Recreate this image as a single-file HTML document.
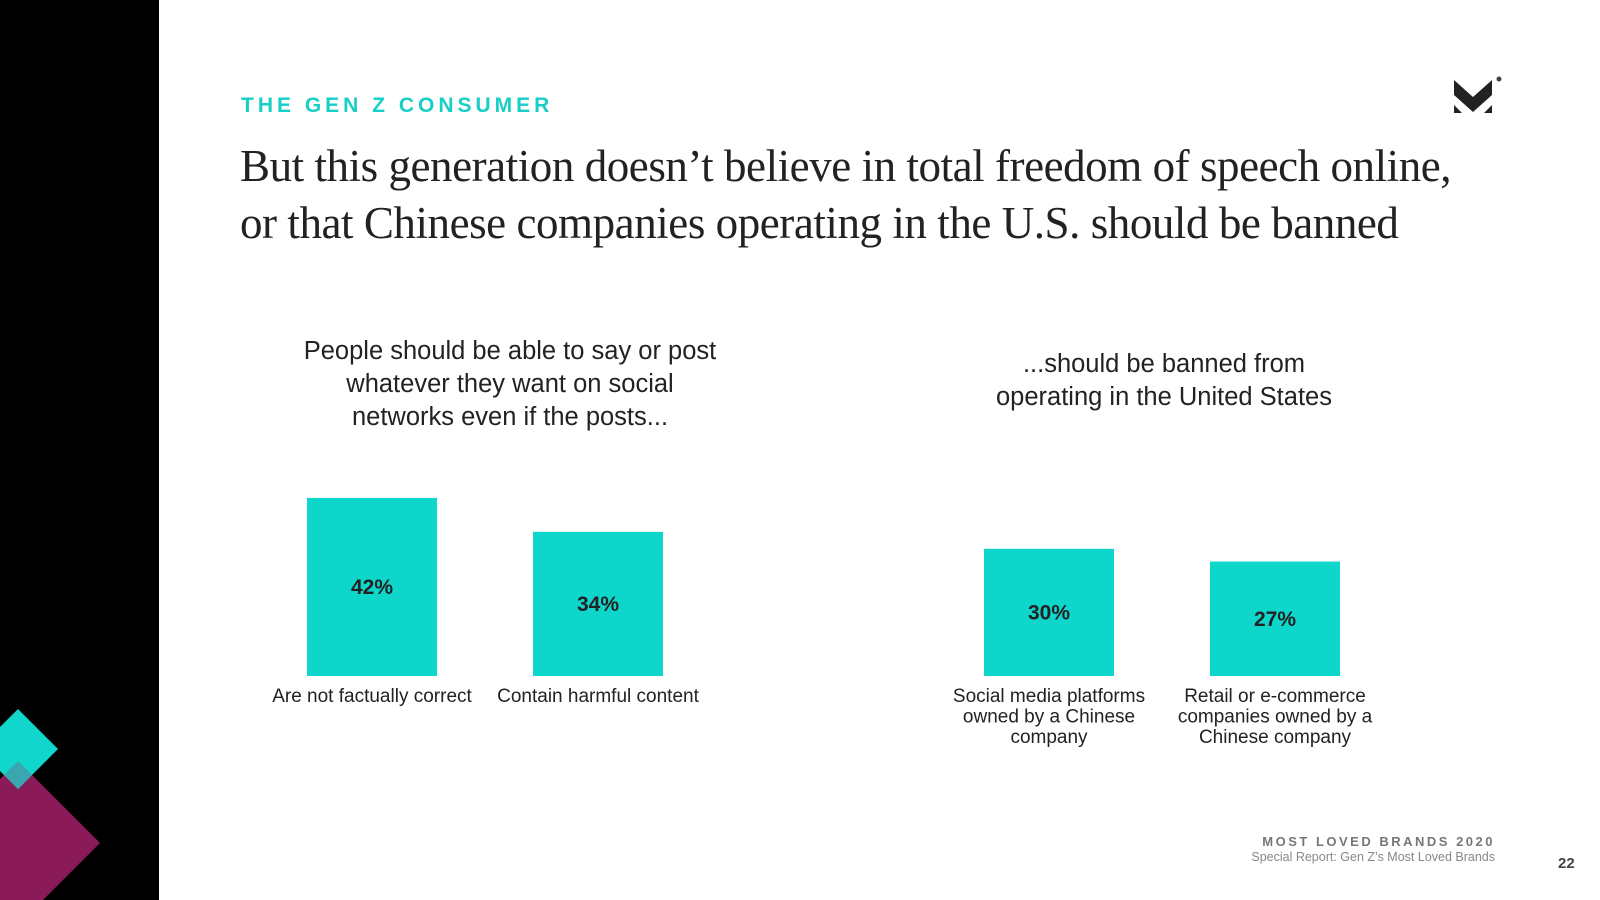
<!DOCTYPE html>
<html><head><meta charset="utf-8"><style>
*{margin:0;padding:0;box-sizing:border-box}
body{width:1600px;height:900px;overflow:hidden;background:#fff;position:relative;font-family:"Liberation Sans",sans-serif;color:#2a2a2a}
.abs{position:absolute}
#kicker{left:241px;top:94px;font-size:21px;font-weight:bold;letter-spacing:4px;color:#17cfc6;white-space:nowrap}
#title{left:240px;top:138px;font-family:"Liberation Serif",serif;font-size:45px;line-height:57px;color:#222;white-space:nowrap;letter-spacing:-0.45px}
.sub{font-size:25.5px;line-height:33px;text-align:center;color:#222}
.foot1{right:105px;top:834px;font-size:13px;font-weight:bold;letter-spacing:2.5px;color:#777}
.foot2{right:105px;top:850px;font-size:12.5px;color:#888}
</style></head><body>
<div class="abs" style="left:0;top:0;width:159px;height:900px;background:#000;overflow:hidden">
<svg width="159" height="900">
<polygon points="18,761 100,843 18,925 -64,843" fill="#8a1a58"/>
<polygon points="18,709 58,749 18,789 -22,749" fill="#11d6cc"/>
<polygon points="18,761 32,775 18,789 4,775" fill="#3aa6b0"/>
</svg></div>
<div id="kicker" class="abs">THE GEN Z CONSUMER</div>
<div id="title" class="abs">But this generation doesn’t believe in total freedom of speech online,<br>or that Chinese companies operating in the U.S. should be banned</div>
<svg class="abs" style="left:1454px;top:76px" width="52" height="40">
<polygon points="0,4 19,21 38,4 38,19 19,36 0,19" fill="#222"/>
<polygon points="0,29 8,37 0,37" fill="#222"/><polygon points="38,29 30,37 38,37" fill="#222"/>
<circle cx="45" cy="3" r="2.5" fill="#444"/></svg>
<div class="abs sub" style="left:260px;width:500px;top:335px">People should be able to say or post<br>whatever they want on social<br>networks even if the posts...</div>
<div class="abs sub" style="left:914px;width:500px;top:348px">...should be banned from<br>operating in the United States</div>
<svg id="chart" class="abs" style="left:0;top:0" width="1600" height="900"></svg>
<div class="abs foot1">MOST LOVED BRANDS 2020</div>
<div class="abs foot2">Special Report: Gen Z’s Most Loved Brands</div>
<div class="abs" style="left:1558px;top:855px;font-size:15px;font-weight:bold;color:#444">22</div>
<script>
const categories=[["Are not factually correct"],["Contain harmful content"],["Social media platforms","owned by a Chinese","company"],["Retail or e-commerce","companies owned by a","Chinese company"]];
const values=[42,34,30,27];
const valueLabels=["42%","34%","30%","27%"];
const barLeft=[307,533,984,1210];
const base=676, pxPer=4.24, bw=130;
function y(v){return base-v*pxPer;}
const svg=document.getElementById('chart'),NS='http://www.w3.org/2000/svg';
values.forEach((v,i)=>{
 const r=document.createElementNS(NS,'rect');
 
 
 r.setAttribute('x',barLeft[i]);r.setAttribute('y',y(v));r.setAttribute('width',bw);r.setAttribute('height',base-y(v));r.setAttribute('fill','#0fd6cb');
 svg.appendChild(r);
 const t=document.createElementNS(NS,'text');
 
 
 t.setAttribute('x',barLeft[i]+bw/2);t.setAttribute('y',(y(v)+base)/2+7);t.setAttribute('text-anchor','middle');t.setAttribute('font-size','21');t.setAttribute('font-weight','bold');t.setAttribute('fill','#222');t.setAttribute('font-family','Liberation Sans');
 t.textContent=valueLabels[i];svg.appendChild(t);
 categories[i].forEach((line,j)=>{
  const c=document.createElementNS(NS,'text');
  
  
  c.setAttribute('x',barLeft[i]+bw/2);c.setAttribute('y',702+j*20.5);c.setAttribute('text-anchor','middle');c.setAttribute('font-size','19');c.setAttribute('fill','#222');c.setAttribute('font-family','Liberation Sans');
  c.textContent=line;svg.appendChild(c);
 });
});
</script>
</body></html>
